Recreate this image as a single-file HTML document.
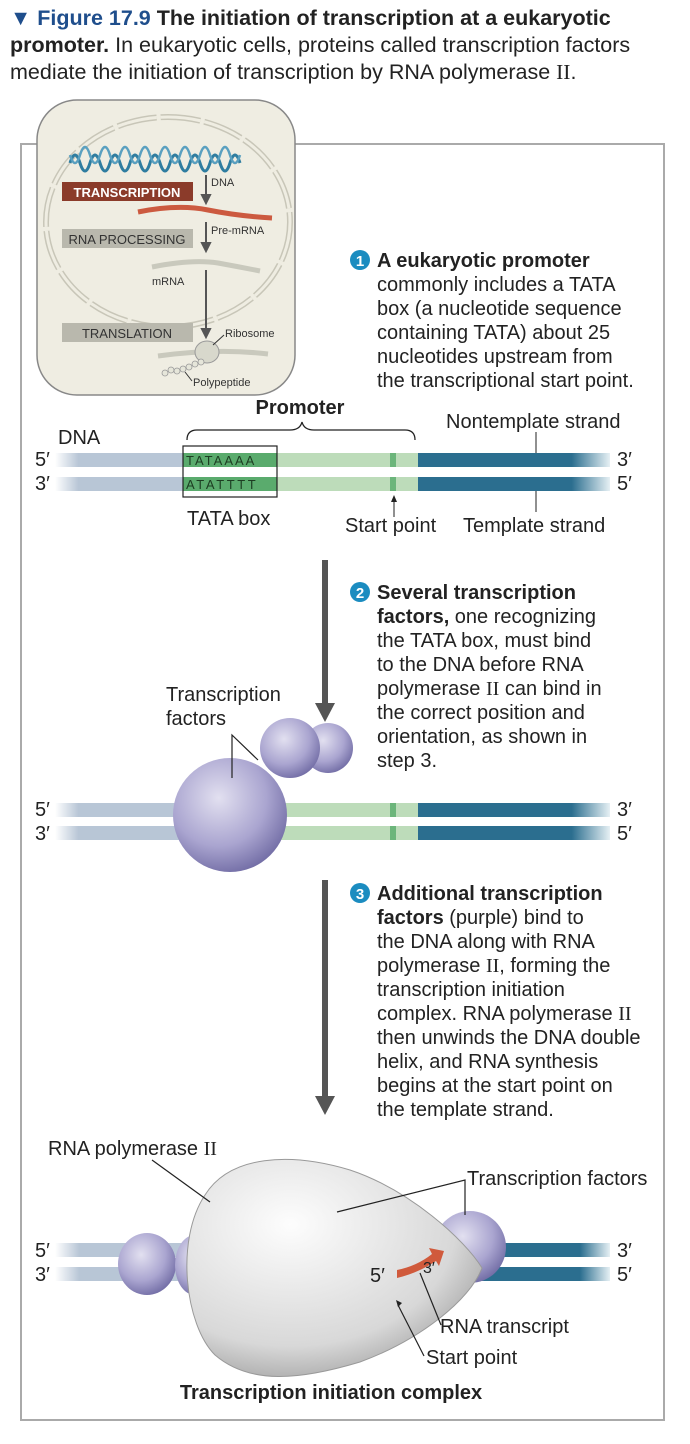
<!DOCTYPE html>
<html><head><meta charset="utf-8"><style>
html,body{margin:0;padding:0;background:#fff;}
svg{display:block;font-family:"Liberation Sans",sans-serif;}
</style></head><body>
<svg width="690" height="1444" viewBox="0 0 690 1444" xmlns="http://www.w3.org/2000/svg">
<defs>
<linearGradient id="lf" x1="0" x2="1"><stop offset="0" stop-color="#fff"/><stop offset="0.18" stop-color="#b8c6d6"/></linearGradient>
<linearGradient id="rf" x1="0" x2="1"><stop offset="0" stop-color="#2b6e8f"/><stop offset="0.8" stop-color="#2b6e8f"/><stop offset="1" stop-color="#e6f0f4"/></linearGradient>
<radialGradient id="pu" cx="0.4" cy="0.35" r="0.7"><stop offset="0" stop-color="#e2e0f0"/><stop offset="0.6" stop-color="#aaa5d0"/><stop offset="1" stop-color="#6f6aa3"/></radialGradient>
<radialGradient id="gr" cx="0.35" cy="0.3" r="0.8"><stop offset="0" stop-color="#fdfdfd"/><stop offset="0.7" stop-color="#d8d8d8"/><stop offset="1" stop-color="#9a9a9a"/></radialGradient>
</defs>
<!-- caption -->
<g font-size="21.5" fill="#222">
<text x="10" y="25" font-weight="bold" fill="#1f4e8c">▼ Figure 17.9 <tspan fill="#222">The initiation of transcription at a eukaryotic</tspan></text>
<text x="10" y="52"><tspan font-weight="bold">promoter.</tspan> In eukaryotic cells, proteins called transcription factors</text>
<text x="10" y="79">mediate the initiation of transcription by RNA polymerase <tspan font-family="Liberation Serif">II</tspan>.</text>
</g>
<!-- frame -->
<rect x="21" y="144" width="643" height="1276" fill="none" stroke="#aaa" stroke-width="2"/>
<!-- inset -->
<rect x="37" y="100" width="258" height="295" rx="40" fill="#efede2" stroke="#888" stroke-width="1.5"/>
<ellipse cx="168" cy="222" rx="122" ry="105" fill="none" stroke="#c8c6b8" stroke-width="6" stroke-dasharray="40 4"/>
<ellipse cx="168" cy="222" rx="122" ry="105" fill="none" stroke="#efede2" stroke-width="3" stroke-dasharray="40 4"/>
<path d="M70 163 q5 -16 10 0 t10 0 t10 0 t10 0 t10 0 t10 0 t10 0 t10 0 t10 0 t10 0 t10 0 t10 0 t10 0 t10 0 t10 0 t10 0 t10 0" fill="none" stroke="#2f7da0" stroke-width="3"/>
<path d="M70 155 q5 16 10 0 t10 0 t10 0 t10 0 t10 0 t10 0 t10 0 t10 0 t10 0 t10 0 t10 0 t10 0 t10 0 t10 0 t10 0 t10 0 t10 0" fill="none" stroke="#5aa0c0" stroke-width="2.5"/>
<rect x="62" y="182" width="131" height="19" fill="#8b3b2a"/>
<text x="127" y="197" font-size="13" font-weight="bold" fill="#fff" text-anchor="middle">TRANSCRIPTION</text>
<path d="M138 212 q40 -8 70 -2 q30 6 64 8" fill="none" stroke="#cc5a40" stroke-width="5"/>
<rect x="62" y="229" width="131" height="19" fill="#b9b8ad"/>
<text x="127" y="244" font-size="13" fill="#333" text-anchor="middle">RNA PROCESSING</text>
<path d="M152 267 q40 -8 66 -4 q22 4 42 8" fill="none" stroke="#c9c9bd" stroke-width="5"/>
<text x="152" y="285" font-size="11" fill="#333">mRNA</text>
<rect x="62" y="323" width="131" height="19" fill="#b9b8ad"/>
<text x="127" y="338" font-size="13" fill="#333" text-anchor="middle">TRANSLATION</text>
<g stroke="#555" stroke-width="2" fill="#555">
<line x1="206" y1="175" x2="206" y2="196"/><path d="M202 195 l4 8 l4 -8z"/>
<line x1="206" y1="222" x2="206" y2="244"/><path d="M202 243 l4 8 l4 -8z"/>
<line x1="206" y1="270" x2="206" y2="330"/><path d="M202 329 l4 8 l4 -8z"/>
</g>
<text x="211" y="186" font-size="11" fill="#333">DNA</text>
<text x="211" y="234" font-size="11" fill="#333">Pre-mRNA</text>
<path d="M158 356 q60 -8 110 -2" fill="none" stroke="#c9c9bd" stroke-width="5"/>
<ellipse cx="207" cy="352" rx="12" ry="11" fill="#d8d8cc" stroke="#999"/>
<g fill="#e6e6da" stroke="#999" stroke-width="0.8"><circle cx="165" cy="373" r="3"/><circle cx="171" cy="370" r="3"/><circle cx="177" cy="371" r="3"/><circle cx="183" cy="369" r="3"/><circle cx="189" cy="367" r="3"/><circle cx="195" cy="364" r="3"/><circle cx="201" cy="362" r="3"/></g>
<line x1="213" y1="345" x2="224" y2="335" stroke="#333"/>
<text x="225" y="337" font-size="11" fill="#333">Ribosome</text>
<line x1="185" y1="372" x2="192" y2="381" stroke="#333"/>
<text x="193" y="386" font-size="11" fill="#333">Polypeptide</text>

<!-- step 1 text -->
<g font-size="20" fill="#222">
<circle cx="360" cy="260" r="10" fill="#1b8cc0"/><text x="360" y="266" font-size="15" font-weight="bold" fill="#fff" text-anchor="middle">1</text>
<text x="377" y="267" font-weight="bold">A eukaryotic promoter</text>
<text x="377" y="291">commonly includes a TATA</text>
<text x="377" y="315">box (a nucleotide sequence</text>
<text x="377" y="339">containing TATA) about 25</text>
<text x="377" y="363">nucleotides upstream from</text>
<text x="377" y="387">the transcriptional start point.</text>
</g>
<!-- DNA 1 -->
<rect x="55" y="453" width="130" height="14" fill="url(#lf)"/>
<rect x="55" y="477" width="130" height="14" fill="url(#lf)"/>
<rect x="183" y="453" width="236" height="14" fill="#bddcba"/>
<rect x="183" y="477" width="236" height="14" fill="#bddcba"/>
<rect x="183" y="453" width="94" height="14" fill="#5aab6d"/>
<rect x="183" y="477" width="94" height="14" fill="#5aab6d"/>
<rect x="390" y="453" width="6" height="14" fill="#6cb57b"/>
<rect x="390" y="477" width="6" height="14" fill="#6cb57b"/>
<rect x="418" y="453" width="192" height="14" fill="url(#rf)"/>
<rect x="418" y="477" width="192" height="14" fill="url(#rf)"/>
<rect x="183" y="446" width="94" height="51" fill="none" stroke="#222" stroke-width="1.2"/>
<text x="186" y="465" font-size="13" fill="#1d3d22" letter-spacing="2">TATAAAA</text>
<text x="186" y="489" font-size="13" fill="#1d3d22" letter-spacing="2.6">ATATTTT</text>
<g font-size="20" fill="#222">
<text x="35" y="466">5′</text><text x="35" y="490">3′</text>
<text x="617" y="466">3′</text><text x="617" y="490">5′</text>
<text x="58" y="444">DNA</text>
<text x="300" y="414" font-weight="bold" text-anchor="middle">Promoter</text>
<text x="446" y="428">Nontemplate strand</text>
<text x="187" y="525">TATA box</text>
<text x="345" y="532">Start point</text>
<text x="463" y="532">Template strand</text>
</g>
<path d="M187 440 q0 -10 10 -10 h93 q10 0 12 -8 q2 8 12 8 h91 q10 0 10 10" fill="none" stroke="#222" stroke-width="1.3"/>
<line x1="536" y1="432" x2="536" y2="453" stroke="#222"/><line x1="536" y1="491" x2="536" y2="512" stroke="#222"/>
<line x1="394" y1="517" x2="394" y2="500" stroke="#222"/><path d="M391 502 l3 -7 l3 7z" fill="#222"/>

<!-- arrow 1 -->
<rect x="322" y="560" width="6" height="145" fill="#555"/><path d="M315 703 l10 19 l10 -19z" fill="#555"/>
<!-- step 2 text -->
<g font-size="20" fill="#222">
<circle cx="360" cy="592" r="10" fill="#1b8cc0"/><text x="360" y="598" font-size="15" font-weight="bold" fill="#fff" text-anchor="middle">2</text>
<text x="377" y="599" font-weight="bold">Several transcription</text>
<text x="377" y="623"><tspan font-weight="bold">factors,</tspan> one recognizing</text>
<text x="377" y="647">the TATA box, must bind</text>
<text x="377" y="671">to the DNA before RNA</text>
<text x="377" y="695">polymerase <tspan font-family="Liberation Serif">II</tspan> can bind in</text>
<text x="377" y="719">the correct position and</text>
<text x="377" y="743">orientation, as shown in</text>
<text x="377" y="767">step 3.</text>
<text x="166" y="701">Transcription</text>
<text x="166" y="725">factors</text>
</g>
<!-- DNA 2 -->
<rect x="55" y="803" width="130" height="14" fill="url(#lf)"/>
<rect x="55" y="826" width="130" height="14" fill="url(#lf)"/>
<rect x="183" y="803" width="236" height="14" fill="#bddcba"/>
<rect x="183" y="826" width="236" height="14" fill="#bddcba"/>
<rect x="390" y="803" width="6" height="14" fill="#6cb57b"/>
<rect x="390" y="826" width="6" height="14" fill="#6cb57b"/>
<rect x="418" y="803" width="192" height="14" fill="url(#rf)"/>
<rect x="418" y="826" width="192" height="14" fill="url(#rf)"/>
<g font-size="20" fill="#222"><text x="35" y="816">5′</text><text x="35" y="840">3′</text><text x="617" y="816">3′</text><text x="617" y="840">5′</text></g>
<circle cx="328" cy="748" r="25" fill="url(#pu)"/>
<circle cx="290" cy="748" r="30" fill="url(#pu)"/>
<circle cx="230" cy="815" r="57" fill="url(#pu)"/>
<path d="M232 778 V735 L258 760" fill="none" stroke="#222" stroke-width="1.2"/>

<!-- arrow 2 -->
<rect x="322" y="880" width="6" height="218" fill="#555"/><path d="M315 1096 l10 19 l10 -19z" fill="#555"/>
<!-- step 3 text -->
<g font-size="20" fill="#222">
<circle cx="360" cy="893" r="10" fill="#1b8cc0"/><text x="360" y="899" font-size="15" font-weight="bold" fill="#fff" text-anchor="middle">3</text>
<text x="377" y="900" font-weight="bold">Additional transcription</text>
<text x="377" y="924"><tspan font-weight="bold">factors</tspan> (purple) bind to</text>
<text x="377" y="948">the DNA along with RNA</text>
<text x="377" y="972">polymerase <tspan font-family="Liberation Serif">II</tspan>, forming the</text>
<text x="377" y="996">transcription initiation</text>
<text x="377" y="1020">complex. RNA polymerase <tspan font-family="Liberation Serif">II</tspan></text>
<text x="377" y="1044">then unwinds the DNA double</text>
<text x="377" y="1068">helix, and RNA synthesis</text>
<text x="377" y="1092">begins at the start point on</text>
<text x="377" y="1116">the template strand.</text>
</g>
<!-- DNA 3 -->
<rect x="55" y="1243" width="135" height="14" fill="url(#lf)"/>
<rect x="55" y="1267" width="135" height="14" fill="url(#lf)"/>
<rect x="460" y="1243" width="150" height="14" fill="url(#rf)"/>
<rect x="460" y="1267" width="150" height="14" fill="url(#rf)"/>
<g font-size="20" fill="#222"><text x="35" y="1257">5′</text><text x="35" y="1281">3′</text><text x="617" y="1257">3′</text><text x="617" y="1281">5′</text></g>
<ellipse cx="147" cy="1264" rx="29" ry="31" fill="url(#pu)"/>
<ellipse cx="195" cy="1265" rx="20" ry="30" fill="url(#pu)"/>
<ellipse cx="470" cy="1247" rx="36" ry="36" fill="url(#pu)"/>
<path d="M205 1195 C230 1155 290 1152 350 1170 C410 1190 465 1240 482 1268 C470 1300 420 1340 360 1362 C300 1380 250 1385 215 1355 C185 1325 175 1240 205 1195 Z" fill="url(#gr)" stroke="#999" stroke-width="1"/>
<path d="M397 1270 q20 -4 35 -16 l-3 -6 l15 3 l-5 15 l-3 -5 q-18 12 -39 17 z" fill="#d05a3c"/>
<g font-size="20" fill="#222">
<text x="48" y="1155">RNA polymerase <tspan font-family="Liberation Serif">II</tspan></text>
<text x="467" y="1185">Transcription factors</text>
<text x="370" y="1282">5′</text><text x="423" y="1273" font-size="16">3′</text>
<text x="440" y="1333">RNA transcript</text>
<text x="426" y="1364">Start point</text>
<text x="331" y="1399" font-weight="bold" text-anchor="middle">Transcription initiation complex</text>
</g>
<g stroke="#222" stroke-width="1.2" fill="none">
<line x1="152" y1="1160" x2="210" y2="1202"/>
<path d="M337 1212 L465 1180 V1215"/>
<line x1="420" y1="1273" x2="441" y2="1325"/>
<line x1="424" y1="1356" x2="398" y2="1305"/>
</g>
<path d="M396 1300 l6 3 l-4 4z" fill="#222"/>
</svg>
</body></html>
